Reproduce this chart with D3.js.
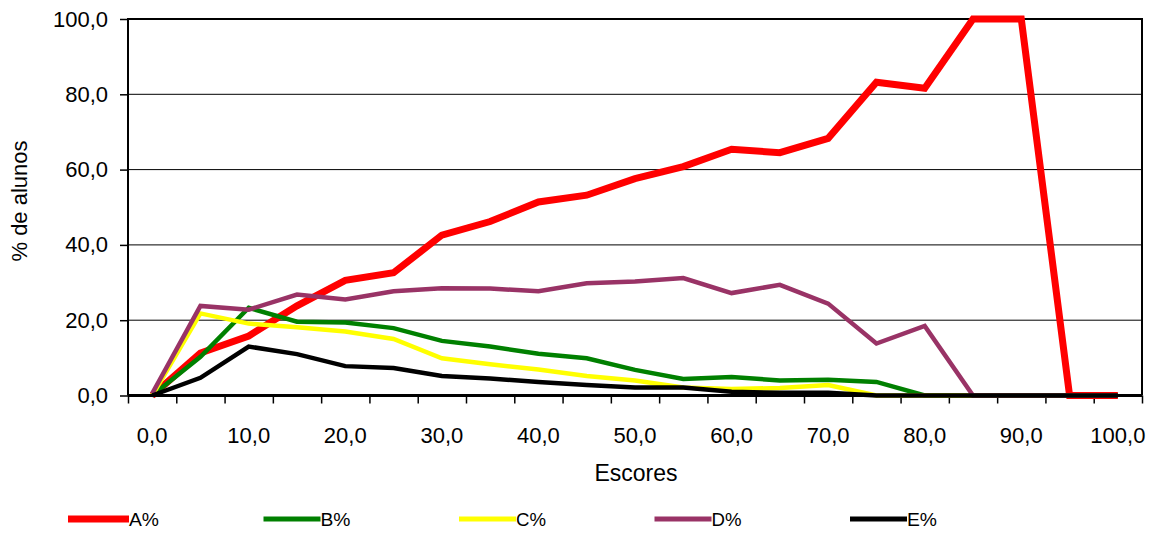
<!DOCTYPE html>
<html lang="pt">
<meta charset="utf-8">
<style>
body { margin: 0; background: #fff; font-family: "Liberation Sans", Arial, sans-serif; }
.grid line { stroke: #000; stroke-width: 1px; }
.axis text { font-size: 22px; fill: #000; }
.axis .domain { display: none; }
.axis line { stroke: #000; stroke-width: 1.5px; }
.serie { fill: none; stroke-linejoin: miter; }
</style>
<body>
<div id="chart"></div>
<script src="https://d3js.org/d3.v7.min.js"></script>
<script>
// escores 0..100 de 5 em 5
var escores = [0,5,10,15,20,25,30,35,40,45,50,55,60,65,70,75,80,85,90,95,100];
var yTicks = [0,20,40,60,80,100];

var serieA = [0,11.3,15.8,23.8,30.6,32.6,42.6,46.2,51.4,53.2,57.6,60.8,65.4,64.5,68.3,83.2,81.6,100,100,0,0];
var serieB = [0,10.3,23.3,19.6,19.4,17.9,14.5,13,11.1,9.9,6.8,4.4,4.9,4,4.2,3.6,0,0,0,0,0];
var serieC = [0,21.8,19.1,18.1,17,15,9.9,8.3,6.9,5.2,4,2.1,1.7,2,2.8,0,0,0,0,0,0];
var serieD = [0.5,23.8,22.8,26.8,25.5,27.7,28.5,28.4,27.7,29.8,30.3,31.2,27.2,29.4,24.4,13.8,18.5,0,0,0,0];
var serieE = [0,4.7,13,11,7.8,7.3,5.2,4.5,3.6,2.8,2.1,2.1,1,0.7,0.7,0,0,0,0,0,0];

var nomes = ["A%","B%","C%","D%","E%"];
var cores = ["#ff0000","#008000","#ffff00","#993366","#000000"];
var larguras = [7,4.5,4.5,4.5,4.5];
var series = [serieA, serieB, serieC, serieD, serieE];

var width = 1162, height = 534;
var margin = {top: 19, right: 20, bottom: 138.5, left: 128};
var w = width - margin.left - margin.right,
    h = height - margin.top - margin.bottom;

var pt = d3.formatLocale({decimal: ",", thousands: ".", grouping: [3], currency: ["R$",""]});
var fmt = pt.format(".1f");

var svg = d3.select("#chart").append("svg")
    .attr("width", width)
    .attr("height", height);

var g = svg.append("g").attr("transform", "translate(" + margin.left + "," + margin.top + ")");

var x = d3.scaleBand().domain(d3.range(escores.length)).range([0, w]).padding(0);
var y = d3.scaleLinear().domain([0, 100]).range([h, 0]);

// linhas de grade
g.append("g").attr("class", "grid")
  .selectAll("line").data(yTicks.slice(1, -1))
  .enter().append("line")
    .attr("x1", 0).attr("x2", w)
    .attr("y1", function(d) { return y(d); })
    .attr("y2", function(d) { return y(d); });

// eixo y
g.append("g").attr("class", "axis")
  .call(d3.axisLeft(y).tickValues(yTicks).tickFormat(fmt).tickSize(8).tickPadding(12));

// eixo x: ticks nas divisas das categorias
var xb = d3.scaleLinear().domain([0, escores.length]).range([0, w]);
g.append("g").attr("class", "axis")
  .attr("transform", "translate(0," + h + ")")
  .call(d3.axisBottom(xb).tickValues(d3.range(escores.length + 1)).tickFormat("").tickSize(8));

g.append("g").attr("class", "axis")
  .selectAll("text").data(escores.filter(function(d, i) { return i % 2 === 0; }))
  .enter().append("text")
    .attr("x", function(d) { return x(escores.indexOf(d)) + x.bandwidth() / 2; })
    .attr("y", h + 47)
    .attr("text-anchor", "middle")
    .text(function(d) { return fmt(d); });

// moldura
g.append("path")
  .attr("d", "M0," + h + "V0H" + w + "V" + h)
  .attr("fill", "none").attr("stroke", "#000").attr("stroke-width", 2);

// linhas das series
var line = d3.line()
  .x(function(d, i) { return x(i) + x.bandwidth() / 2; })
  .y(function(d) { return y(d); });

series.forEach(function(s, k) {
  g.append("path")
    .attr("class", "serie")
    .attr("d", line(s))
    .attr("stroke", cores[k])
    .attr("stroke-width", larguras[k]);
});

g.append("line")
  .attr("x1", 0).attr("x2", w).attr("y1", h).attr("y2", h)
  .attr("stroke", "#000").attr("stroke-width", 3);

// titulos
svg.append("text")
  .attr("x", margin.left + w / 2 + 1).attr("y", 481)
  .attr("text-anchor", "middle").attr("font-size", 23)
  .text("Escores");

svg.append("text")
  .attr("transform", "translate(27,201) rotate(-90)")
  .attr("text-anchor", "middle").attr("font-size", 22)
  .text("% de alunos");

// legenda
var leg = svg.append("g").attr("transform", "translate(68,519)");
nomes.forEach(function(n, k) {
  var lg = leg.append("g").attr("transform", "translate(" + (k * 195.5) + ",0)");
  lg.append("line").attr("x1", 0).attr("x2", k === 0 ? 61 : 57)
    .attr("stroke", cores[k]).attr("stroke-width", k === 0 ? 7 : 5);
  lg.append("text").attr("x", k === 0 ? 61 : 57).attr("y", 7)
    .attr("font-size", 18).attr("textLength", 30).attr("lengthAdjust", "spacingAndGlyphs")
    .text(n);
});
</script>
</body>
</html>
